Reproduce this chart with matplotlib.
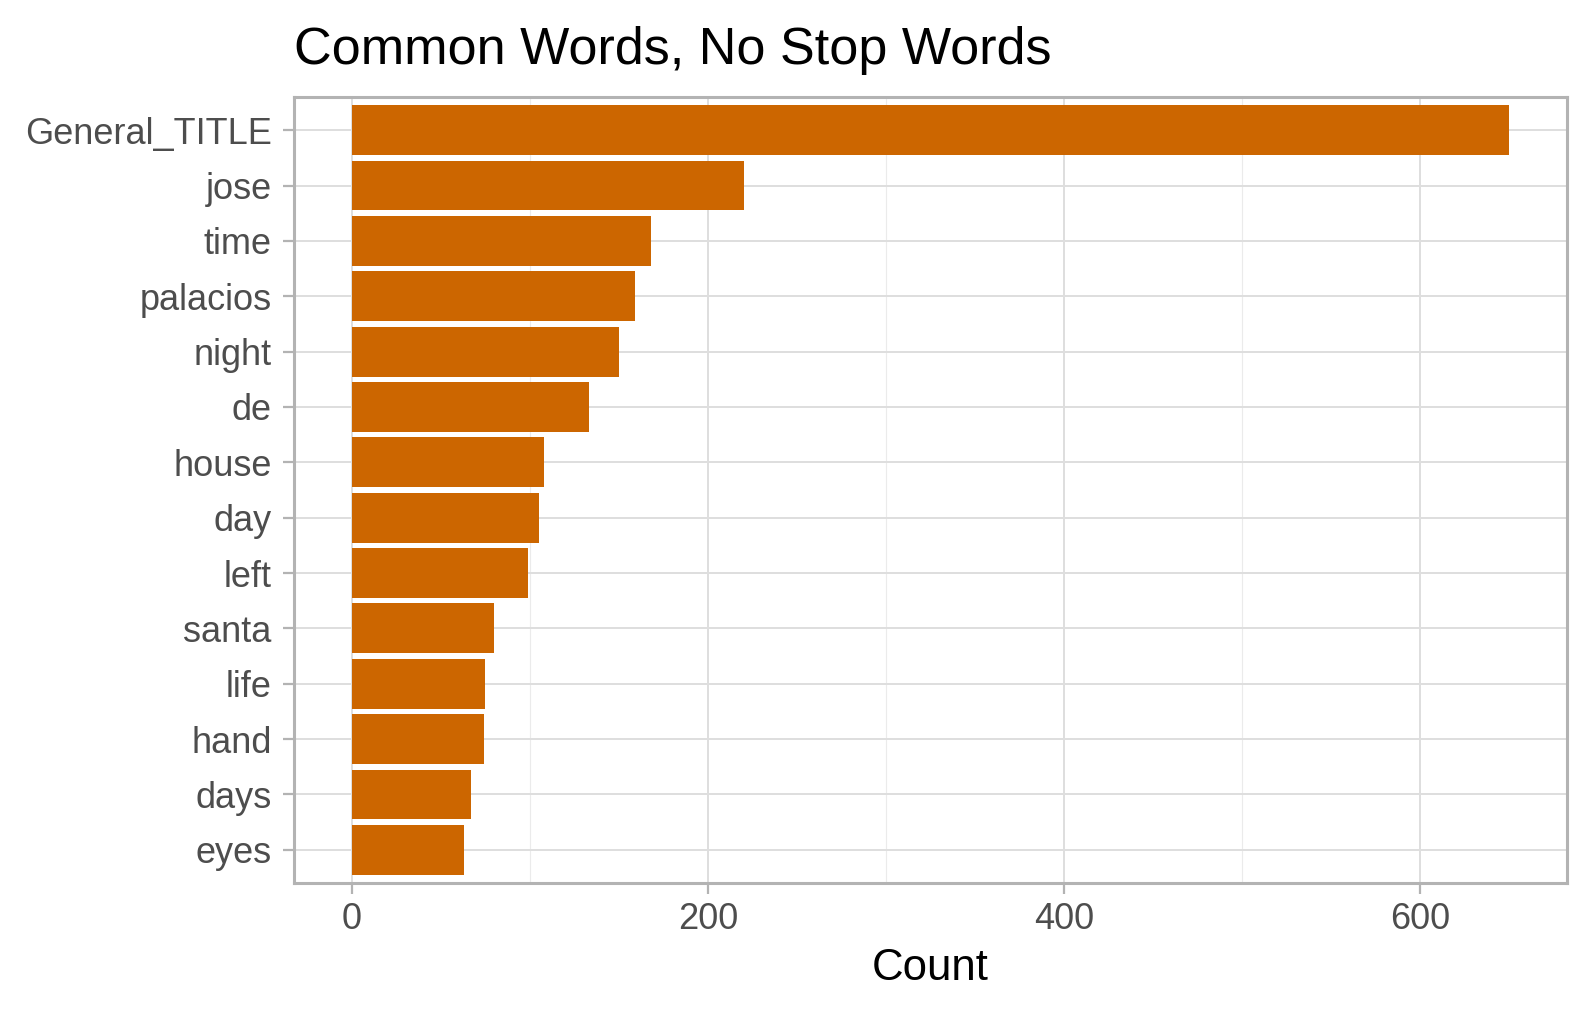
import matplotlib
matplotlib.use("Agg")
import matplotlib.pyplot as plt
from matplotlib.ticker import MultipleLocator
import numpy as np

# word counts (top to bottom)
words = ["General_TITLE", "jose", "time", "palacios", "night", "de", "house",
         "day", "left", "santa", "life", "hand", "days", "eyes"]
counts = [650, 220, 168, 159, 150, 133, 108, 105, 99, 80, 75, 74, 67, 63]

plt.rcParams['font.family'] = ['Liberation Sans', 'DejaVu Sans']

W, H = 1596, 1016
fig = plt.figure(figsize=(W / 100, H / 100), dpi=100)
# panel box in pixels: left 294, right 1567, top 97, bottom 883
ax = fig.add_axes([294 / W, 1 - 883 / H, (1567 - 294) / W, (883 - 97) / H])

n = len(words)
ypos = np.arange(n, 0, -1)   # first word on top
ax.barh(ypos, counts, height=0.9, color='#CC6600', zorder=3)

xmax = max(counts)
ax.set_xlim(-0.05 * xmax, 1.05 * xmax)
ax.set_ylim(0.4, n + 0.6)

ax.set_yticks(ypos)
ax.set_yticklabels(words)
ax.xaxis.set_major_locator(MultipleLocator(200))
ax.xaxis.set_minor_locator(MultipleLocator(100))

grey = '#B3B3B3'
ax.grid(which='major', color='#DEDEDE', linewidth=1.4, zorder=0)
ax.grid(which='minor', axis='x', color='#EBEBEB', linewidth=0.8, zorder=0)
ax.set_axisbelow(True)
for s in ax.spines.values():
    s.set_color(grey)
    s.set_linewidth(2.2)

ax.tick_params(which='major', length=8, width=1.6, color=grey,
               labelsize=26, labelcolor='#4D4D4D')
ax.tick_params(axis='y', pad=8)
ax.tick_params(axis='x', pad=6)
ax.tick_params(which='minor', length=0)

ax.set_title("Common Words, No Stop Words", loc='left', fontsize=37.5,
             pad=24, color='black')
ax.set_xlabel("Count", fontsize=31.5, color='black')
ax.xaxis.set_label_coords(0.5, (883 - 980) / (883 - 97))
ax.xaxis.label.set_verticalalignment('baseline')
ax.set_ylabel("")

fig.savefig("out.png", dpi=100)
